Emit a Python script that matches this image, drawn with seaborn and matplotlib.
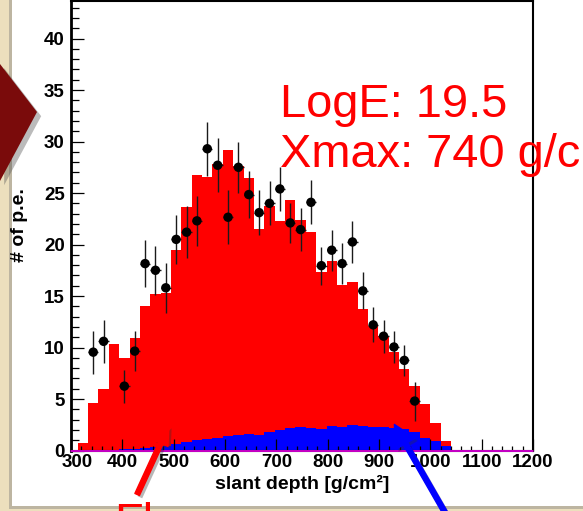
import numpy as np
import pandas as pd
import matplotlib
matplotlib.use("Agg")
import matplotlib.pyplot as plt
import seaborn as sns
from matplotlib.patches import Polygon, Rectangle, FancyArrowPatch
from matplotlib.ticker import MultipleLocator, FixedLocator
from matplotlib.transforms import ScaledTranslation
import matplotlib.patheffects as pe

# ---------------- data ----------------
bin_lo = 313.0
bin_width = 20.2
red_signal = [0.7, 4.6, 6.0, 10.3, 9.0, 10.9, 14.0, 15.2, 15.3, 19.5, 23.6, 26.8,
              26.6, 27.8, 29.2, 27.6, 26.5, 21.5, 23.7, 22.3, 24.3, 22.4, 21.2, 17.3,
              18.4, 16.1, 16.35, 13.7, 12.1, 11.1, 9.6, 7.9, 6.3, 4.55, 2.7, 0.9]
blue_signal = [0.0, 0.02, 0.04, 0.07, 0.1, 0.15, 0.25, 0.35, 0.45, 0.6, 0.8, 1.0,
               1.15, 1.25, 1.45, 1.5, 1.6, 1.55, 1.8, 1.95, 2.2, 2.25, 2.2, 2.1,
               2.4, 2.3, 2.5, 2.4, 2.3, 2.28, 2.2, 2.1, 1.8, 1.25, 0.9, 0.4]
point_bins = [2, 3, 5, 6, 7, 8, 9, 10, 11, 12, 13, 14, 15, 16, 17, 18, 19, 20,
              21, 22, 23, 24, 25, 26, 27, 28, 29, 30, 31, 32, 33]
point_vals = [9.55, 10.6, 6.25, 9.65, 18.15, 17.5, 15.8, 20.5, 21.2, 22.3, 29.3, 27.7,
              22.65, 27.5, 24.85, 23.1, 24.0, 25.4, 22.1, 21.45, 24.1, 17.95, 19.45,
              18.15, 20.25, 15.5, 12.2, 11.1, 10.05, 8.75, 4.8]
point_errs = [2.1, 2.1, 1.6, 1.95, 2.3, 2.4, 2.4, 2.35, 2.5, 2.4, 2.6, 2.6,
              2.6, 2.5, 2.3, 2.2, 2.15, 2.1, 1.95, 2.05, 2.15, 1.85, 2.0,
              2.0, 2.05, 1.8, 1.7, 1.6, 1.55, 1.5, 1.9]
xticks = [300, 400, 500, 600, 700, 800, 900, 1000, 1100, 1200]
yticks = [0, 5, 10, 15, 20, 25, 30, 35, 40]
xlabel = "slant depth [g/cm²]"
ylabel = "# of p.e."
note1 = "LogE: 19.5"
note2 = "Xmax: 740 g/cm²"
note3 = "Fluorescence"

# ---------------- figure ----------------
sns.set_theme(style="white")
plt.rcParams['font.family'] = ['Liberation Sans', 'DejaVu Sans']

W, H = 583, 511
fig = plt.figure(figsize=(W / 100, H / 100), dpi=100)
fig.patch.set_facecolor('#ecdfbd')

def fp(x, y):
    """pixel (from top-left) -> figure fraction"""
    return (x / W, 1 - y / H)

canvas = Rectangle(fp(12, 506), 1, 1, transform=fig.transFigure,
                   facecolor='white', edgecolor='none', zorder=-1,
                   path_effects=[pe.SimplePatchShadow(offset=(-2, -2), shadow_rgbFace='#777777', alpha=0.4),
                                 pe.Normal()])
fig.add_artist(canvas)

ax = fig.add_axes([71 / W, (H - 450.5) / H, 462 / W, 449 / H])
ax.set_facecolor('white')

n_bins = len(red_signal)
bin_hi = bin_lo + bin_width * n_bins
edges = np.linspace(bin_lo, bin_hi, n_bins + 1)
centers = edges[:-1] + bin_width / 2
df = pd.DataFrame({'depth': centers, 'red': red_signal, 'blue': blue_signal})

sns.histplot(data=df, x='depth', weights='red', bins=n_bins, binrange=(bin_lo, bin_hi),
             element='step', fill=True, color='#ff0000', alpha=1, linewidth=0, ax=ax)
sns.histplot(data=df, x='depth', weights='blue', bins=n_bins, binrange=(bin_lo, bin_hi),
             element='step', fill=True, color='#0000ff', alpha=1, linewidth=0, ax=ax)

px = centers[np.array(point_bins) - 1]
ax.errorbar(px, point_vals, yerr=point_errs, xerr=bin_width / 2, fmt='none',
            ecolor='#1a1a1a', elinewidth=1.0, capsize=0, zorder=4)
sns.scatterplot(x=px, y=point_vals, color='black', s=46, edgecolor='none', ax=ax, zorder=5)

ax.axhline(0, color='#ff00ff', lw=1.1, zorder=6, clip_on=False)

ax.set_xlim(300, 1200)
ax.set_ylim(0, 43.6)
ax.set_axisbelow(False)

ax.xaxis.set_major_locator(FixedLocator(xticks))
ax.xaxis.set_minor_locator(MultipleLocator(20))
ax.yaxis.set_major_locator(FixedLocator(yticks))
ax.yaxis.set_minor_locator(MultipleLocator(1))
ax.set_xticklabels([str(t) for t in xticks], fontweight='bold', fontsize=13.5)
ax.set_yticklabels([str(t) for t in yticks], fontweight='bold', fontsize=13.5)

ax.tick_params(axis='x', which='major', direction='in', length=8.5, width=0.9,
               bottom=True, top=False, pad=2.5, colors='black')
ax.tick_params(axis='x', which='minor', direction='in', length=3.8, width=0.9,
               bottom=True, top=False, colors='black')
ax.tick_params(axis='y', which='major', direction='in', length=9.5, width=0.9,
               left=True, right=False, pad=4.5, colors='black')
ax.tick_params(axis='y', which='minor', direction='in', length=5.5, width=0.9,
               left=True, right=False, colors='black')

# first x label is nudged right as in the reference (keeps clear of the "0")
first = ax.xaxis.get_major_ticks()[0].label1
first.set_transform(first.get_transform() + ScaledTranslation(6.5 / 100, 0, fig.dpi_scale_trans))

for s in ax.spines.values():
    s.set_color('black')
    s.set_linewidth(1.5)
ax.spines['left'].set_linewidth(2.0)

ax.set_xlabel(xlabel, fontsize=14, fontweight='bold', color='black')
ax.set_ylabel(ylabel, fontsize=14, fontweight='bold', color='black')
ax.xaxis.set_label_coords(0.5, -0.055)
ax.yaxis.set_label_coords(-0.092, 0.502)

# annotations
fig.text(*fp(280, 116.7), note1, color='#ff0000', fontsize=33.8, va='baseline', ha='left', zorder=7)
fig.text(*fp(280, 166.7), note2, color='#ff0000', fontsize=33.8, va='baseline', ha='left', zorder=7)
fig.text(*fp(114, 536), note3, color='#ff0000', fontsize=33.8, va='baseline', ha='left', zorder=7)

shadow = [pe.SimplePatchShadow(offset=(2, -2), shadow_rgbFace='#333333', alpha=0.35), pe.Normal()]
red_arrow = FancyArrowPatch(fp(136, 497), fp(170, 423), transform=fig.transFigure,
                            arrowstyle='simple,head_length=14,head_width=11.5,tail_width=3.6',
                            color='#ff0000', zorder=7, path_effects=shadow)
fig.add_artist(red_arrow)
blue_arrow = FancyArrowPatch(fp(447, 516), fp(393, 422), transform=fig.transFigure,
                             arrowstyle='simple,head_length=16,head_width=16,tail_width=3.6',
                             color='#0000ff', zorder=7, path_effects=shadow)
fig.add_artist(blue_arrow)

chevron = Polygon([fp(0, 64), fp(37, 112), fp(0, 181)], closed=True, transform=fig.transFigure,
                  facecolor='#7a0b0b', edgecolor='none', zorder=7,
                  path_effects=[pe.SimplePatchShadow(offset=(3, -3), shadow_rgbFace='#555555', alpha=0.4),
                                pe.Normal()])
fig.add_artist(chevron)

fig.savefig('out.png', dpi=100)
